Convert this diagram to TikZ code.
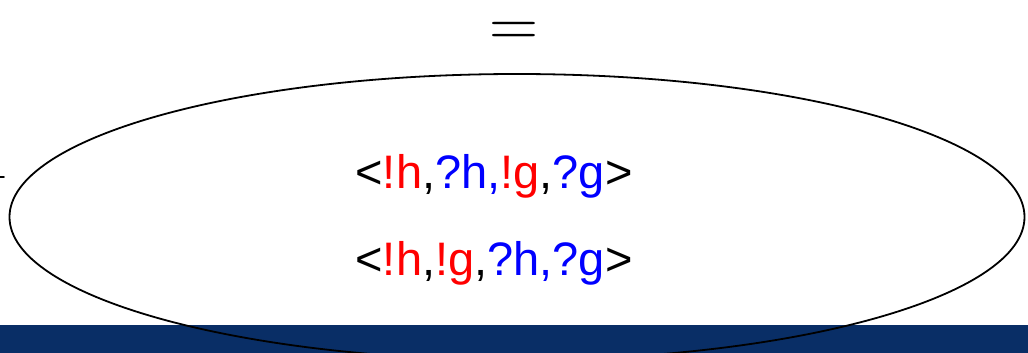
\documentclass[tikz,border=0pt]{standalone}
\usepackage{fontspec}
\usepackage{xcolor}
\usetikzlibrary{shapes.geometric}
\newfontfamily\seqfont{Liberation Sans}
\definecolor{SeqSend}{rgb}{1,0,0}
\definecolor{SeqRecv}{rgb}{0,0,1}
\definecolor{SeqInk}{gray}{0}
\definecolor{SeqBand}{RGB}{9,46,102}
\newcommand{\snd}[1]{\textcolor{SeqSend}{#1}}
\newcommand{\rcv}[1]{\textcolor{SeqRecv}{#1}}
\tikzset{
    seq/diagram/.style={
        x=1pt, y=-1pt,
        draw=SeqInk,
        text=SeqInk,
        line cap=round,
        line join=round,
        every node/.style={inner sep=0pt, outer sep=0pt}
    },
    seq/pool/.style={
        ellipse, draw=SeqInk, line width=1.8pt,
        minimum width=1015pt, minimum height=286pt
    },
    seq/trace/.style={
        anchor=base, font=\seqfont\fontsize{47}{47}\selectfont
    },
    seq/equals/.style={anchor=base, font=\fontsize{68}{68}\selectfont},
    seq/band/.style={fill=SeqBand, draw=none},
    seq/stub/.style={draw=SeqInk, line width=1.8pt}
}

\begin{document}
\begin{tikzpicture}[seq/diagram]
    \useasboundingbox (0,0) rectangle (1028,353);
    \fill[seq/band] (0,325) rectangle (1028,353);
    \node[seq/equals] (eq) at (514,47) {=};
    \node[seq/pool] (pool) at (517,217) {};
    \node[seq/trace] (first) at (494,188)
        {<\snd{!h},\rcv{?h,}\snd{!g},\rcv{?g}>};
    \node[seq/trace] (second) at (494,275)
        {<\snd{!h},\snd{!g},\rcv{?h,?g}>};
    \coordinate (cut) at (0,177);
    \draw[seq/stub] (cut) -- ++(4,0);
\end{tikzpicture}
\end{document}
